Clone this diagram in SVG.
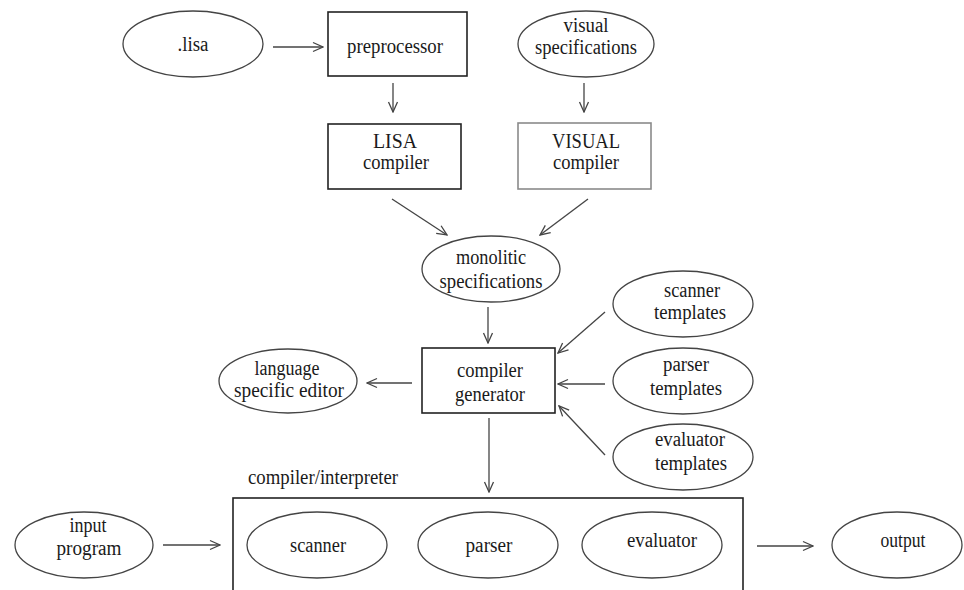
<svg xmlns="http://www.w3.org/2000/svg" width="964" height="590" viewBox="0 0 964 590">
<style>
  .bg { fill: #ffffff; }
  .ell { fill: #ffffff; stroke: #444444; stroke-width: 1.3; }
  .box { fill: #ffffff; stroke: #222222; stroke-width: 1.6; }
  .box-gray { fill: #ffffff; stroke: #8a8a8a; stroke-width: 1.6; }
  .t { font-family: "Liberation Serif", "Times New Roman", serif; font-size: 20px; fill: #1a1a1a; text-anchor: middle; }
  .tl { font-family: "Liberation Serif", "Times New Roman", serif; font-size: 20px; fill: #1a1a1a; }
  .conn line { stroke: #444444; stroke-width: 1.3; fill: none; marker-end: url(#arr); }
</style>
<defs>
  <marker id="arr" markerUnits="userSpaceOnUse" markerWidth="12" markerHeight="12" viewBox="0 0 12 12" refX="11" refY="6" orient="auto">
    <path d="M1,1.5 L11,6 L1,10.5" fill="none" stroke="#444444" stroke-width="1.3"/>
  </marker>
</defs>
<rect class="bg" x="0" y="0" width="964" height="590"/>

<g id="lisa">
  <ellipse class="ell" cx="193" cy="44" rx="70" ry="33"/>
  <text class="t" x="193" y="51" textLength="31" lengthAdjust="spacingAndGlyphs">.lisa</text>
</g>
<g id="preprocessor">
  <rect class="box" x="328" y="12" width="139" height="64"/>
  <text class="t" x="395" y="53" textLength="96" lengthAdjust="spacingAndGlyphs">preprocessor</text>
</g>
<g id="visual-spec">
  <ellipse class="ell" cx="586" cy="44" rx="68" ry="33"/>
  <text class="t" x="586" y="32" textLength="45" lengthAdjust="spacingAndGlyphs">visual</text>
  <text class="t" x="586" y="54" textLength="102" lengthAdjust="spacingAndGlyphs">specifications</text>
</g>
<g id="lisa-compiler">
  <rect class="box" x="328" y="124" width="133" height="65"/>
  <text class="t" x="395" y="148" textLength="44" lengthAdjust="spacingAndGlyphs">LISA</text>
  <text class="t" x="396" y="169" textLength="66" lengthAdjust="spacingAndGlyphs">compiler</text>
</g>
<g id="visual-compiler">
  <rect class="box-gray" x="518" y="123" width="133" height="66"/>
  <text class="t" x="586" y="148" textLength="68" lengthAdjust="spacingAndGlyphs">VISUAL</text>
  <text class="t" x="586" y="169" textLength="66" lengthAdjust="spacingAndGlyphs">compiler</text>
</g>
<g id="monolitic">
  <ellipse class="ell" cx="491" cy="269" rx="69" ry="33"/>
  <text class="t" x="491" y="264" textLength="70" lengthAdjust="spacingAndGlyphs">monolitic</text>
  <text class="t" x="491" y="288" textLength="103" lengthAdjust="spacingAndGlyphs">specifications</text>
</g>
<g id="compiler-generator">
  <rect class="box" x="422" y="348" width="133" height="65"/>
  <text class="t" x="490" y="377" textLength="66" lengthAdjust="spacingAndGlyphs">compiler</text>
  <text class="t" x="490" y="401" textLength="70" lengthAdjust="spacingAndGlyphs">generator</text>
</g>
<g id="language-editor">
  <ellipse class="ell" cx="288" cy="381" rx="69" ry="32"/>
  <text class="t" x="287" y="375" textLength="65" lengthAdjust="spacingAndGlyphs">language</text>
  <text class="t" x="289" y="397" textLength="110" lengthAdjust="spacingAndGlyphs">specific editor</text>
</g>
<g id="scanner-templates">
  <ellipse class="ell" cx="683" cy="304" rx="70" ry="33"/>
  <text class="t" x="692" y="297" textLength="56" lengthAdjust="spacingAndGlyphs">scanner</text>
  <text class="t" x="690" y="319" textLength="72" lengthAdjust="spacingAndGlyphs">templates</text>
</g>
<g id="parser-templates">
  <ellipse class="ell" cx="683" cy="381" rx="70" ry="33"/>
  <text class="t" x="686" y="371" textLength="46" lengthAdjust="spacingAndGlyphs">parser</text>
  <text class="t" x="686" y="395" textLength="72" lengthAdjust="spacingAndGlyphs">templates</text>
</g>
<g id="evaluator-templates">
  <ellipse class="ell" cx="683" cy="457" rx="70" ry="33"/>
  <text class="t" x="690" y="446" textLength="70" lengthAdjust="spacingAndGlyphs">evaluator</text>
  <text class="t" x="691" y="470" textLength="72" lengthAdjust="spacingAndGlyphs">templates</text>
</g>
<g id="compiler-interpreter">
  <text class="tl" x="248" y="484" textLength="150" lengthAdjust="spacingAndGlyphs">compiler/interpreter</text>
  <rect class="box" x="233" y="498" width="510" height="110"/>
</g>
<g id="input-program">
  <ellipse class="ell" cx="84" cy="545" rx="69" ry="33"/>
  <text class="t" x="88" y="532" textLength="37" lengthAdjust="spacingAndGlyphs">input</text>
  <text class="t" x="89" y="555" textLength="65" lengthAdjust="spacingAndGlyphs">program</text>
</g>
<g id="scanner">
  <ellipse class="ell" cx="317" cy="545" rx="70" ry="33"/>
  <text class="t" x="318" y="552" textLength="56" lengthAdjust="spacingAndGlyphs">scanner</text>
</g>
<g id="parser">
  <ellipse class="ell" cx="488" cy="545" rx="70" ry="33"/>
  <text class="t" x="489" y="552" textLength="47" lengthAdjust="spacingAndGlyphs">parser</text>
</g>
<g id="evaluator">
  <ellipse class="ell" cx="652" cy="545" rx="70" ry="33"/>
  <text class="t" x="662" y="547" textLength="70" lengthAdjust="spacingAndGlyphs">evaluator</text>
</g>
<g id="output">
  <ellipse class="ell" cx="897" cy="545" rx="65" ry="33"/>
  <text class="t" x="903" y="547" textLength="45" lengthAdjust="spacingAndGlyphs">output</text>
</g>

<g id="connectors" class="conn">
  <line x1="273" y1="47" x2="323" y2="47"/>
  <line x1="393" y1="83" x2="393" y2="112"/>
  <line x1="584" y1="83" x2="584" y2="112"/>
  <line x1="392" y1="199" x2="447" y2="235"/>
  <line x1="588" y1="199" x2="540" y2="235"/>
  <line x1="488" y1="307" x2="488" y2="343"/>
  <line x1="412" y1="383" x2="367" y2="383"/>
  <line x1="605" y1="312" x2="558" y2="353"/>
  <line x1="605" y1="384" x2="558" y2="384"/>
  <line x1="605" y1="455" x2="559" y2="406"/>
  <line x1="489" y1="418" x2="489" y2="492"/>
  <line x1="163" y1="545" x2="220" y2="545"/>
  <line x1="757" y1="546" x2="813" y2="546"/>
</g>
</svg>
